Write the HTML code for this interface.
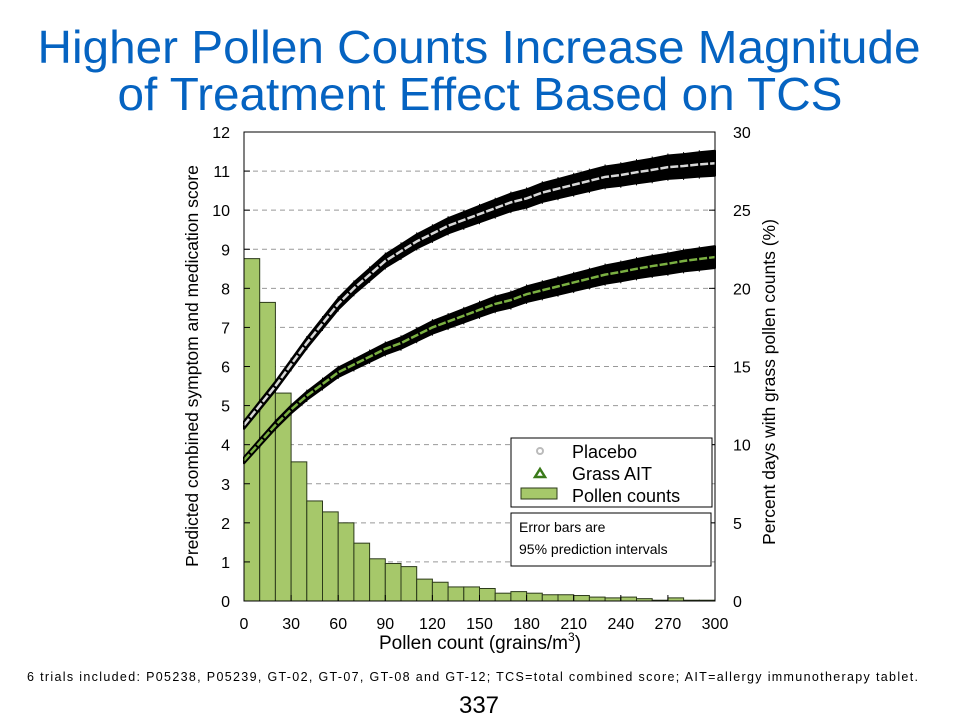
<!DOCTYPE html>
<html><head><meta charset="utf-8"><style>
body{margin:0;background:#fff;}
svg text{font-family:"Liberation Sans",Arial,sans-serif;}
</style></head><body>
<svg id="c" width="960" height="720" viewBox="0 0 960 720" xmlns="http://www.w3.org/2000/svg">
<text x="479" y="63" font-size="46" fill="#0563c1" text-anchor="middle" textLength="883" lengthAdjust="spacingAndGlyphs">Higher Pollen Counts Increase Magnitude</text>
<text x="480" y="110" font-size="46" fill="#0563c1" text-anchor="middle" textLength="725" lengthAdjust="spacingAndGlyphs">of Treatment Effect Based on TCS</text>
<g id="grid"></g>
<g id="bars"></g>
<g id="series"></g>
<rect x="244" y="132" width="471" height="469" fill="none" stroke="#000" stroke-width="1"/>
<g id="axes"></g>
<text transform="translate(198,366) rotate(-90)" font-size="17.5" text-anchor="middle">Predicted combined symptom and medication score</text>
<text transform="translate(775,382) rotate(-90)" font-size="17.5" text-anchor="middle">Percent days with grass pollen counts (%)</text>
<text x="480" y="649" font-size="19" text-anchor="middle">Pollen count (grains/m<tspan font-size="12" dy="-8">3</tspan><tspan dy="8">)</tspan></text>
<g>
<rect x="511" y="438" width="201" height="69" fill="#fff" stroke="#000" stroke-width="1"/>
<circle cx="540" cy="451" r="3" fill="none" stroke="#bbb" stroke-width="2"/>
<text x="572" y="458" font-size="18">Placebo</text>
<polygon points="535,477 540,469 545,477" fill="none" stroke="#3a7a1a" stroke-width="2.5"/>
<text x="572" y="480" font-size="18">Grass AIT</text>
<rect x="521" y="488" width="36" height="11" fill="#a6c86a" stroke="#2c3a1a"/>
<text x="572" y="502" font-size="18">Pollen counts</text>
</g>
<g>
<rect x="511" y="513" width="200" height="53" fill="#fff" stroke="#000" stroke-width="1"/>
<text x="519" y="532" font-size="14">Error bars are</text>
<text x="519" y="554" font-size="14">95% prediction intervals</text>
</g>
<text x="27" y="681" font-size="12.5" textLength="891" lengthAdjust="spacing">6 trials included:  P05238,  P05239,  GT-02,  GT-07,  GT-08 and GT-12;  TCS=total combined score; AIT=allergy  immunotherapy  tablet.</text>
<text x="479" y="713" font-size="24" text-anchor="middle">337</text>
</svg>
<script>
const pollenPct=[21.9,19.1,13.3,8.9,6.4,5.7,5.0,3.7,2.7,2.4,2.2,1.4,1.2,0.9,0.9,0.8,0.5,0.6,0.5,0.4,0.4,0.35,0.25,0.2,0.25,0.15,0.05,0.2,0.05,0.05];
const curveX=[0,10,20,30,40,50,60,70,80,90,100,110,120,130,140,150,160,170,180,190,200,210,220,230,240,250,260,270,280,290,300];
const placebo=[4.5,5.0,5.5,6.05,6.6,7.1,7.6,8.0,8.35,8.7,8.95,9.2,9.4,9.6,9.75,9.9,10.05,10.2,10.3,10.45,10.55,10.65,10.75,10.85,10.9,10.97,11.03,11.1,11.13,11.17,11.2];
const ait=[3.6,4.05,4.5,4.9,5.25,5.55,5.85,6.05,6.25,6.45,6.6,6.8,7.0,7.15,7.3,7.45,7.6,7.7,7.85,7.95,8.05,8.15,8.25,8.35,8.42,8.5,8.57,8.63,8.7,8.75,8.8];
const placeboErr=[0.1,0.32];
const aitErr=[0.08,0.28];
const xTicks=[0,30,60,90,120,150,180,210,240,270,300];
const yLeftTicks=[0,1,2,3,4,5,6,7,8,9,10,11,12];
const yRightTicks=[0,5,10,15,20,25,30];
const binWidth=10;
const NS="http://www.w3.org/2000/svg";
const X=v=>244+v/300*471, YL=v=>601-v/12*469, YR=v=>601-v/30*469;
function mk(p,t,a){const e=document.createElementNS(NS,t);for(const k in a)e.setAttribute(k,a[k]);p.appendChild(e);return e;}
const grid=document.getElementById('grid'),bars=document.getElementById('bars'),ser=document.getElementById('series'),axes=document.getElementById('axes');
yLeftTicks.forEach(v=>{if(v>0&&v<12){const l=mk(grid,'line',{x1:244,x2:715,y1:YL(v),y2:YL(v),stroke:'#999','stroke-dasharray':'5,4','stroke-width':1});

}
const t=mk(axes,'text',{x:230,y:YL(v)+6,'font-size':16,'text-anchor':'end'});t.textContent=v;


mk(axes,'line',{x1:244,x2:250,y1:YL(v),y2:YL(v),stroke:'#000'});});
yRightTicks.forEach(v=>{const t=mk(axes,'text',{x:733,y:YR(v)+6,'font-size':16});t.textContent=v;


mk(axes,'line',{x1:709,x2:715,y1:YR(v),y2:YR(v),stroke:'#000'});});
xTicks.forEach(v=>{const t=mk(axes,'text',{x:X(v),y:629,'font-size':16,'text-anchor':'middle'});t.textContent=v;


mk(axes,'line',{x1:X(v),x2:X(v),y1:601,y2:595,stroke:'#000'});});
pollenPct.forEach((p,i)=>{const r=mk(bars,'rect',{x:X(i*binWidth),y:YR(p),width:X(binWidth)-X(0),height:601-YR(p),fill:'#a6c86a',stroke:'#2c3a1a','stroke-width':1});

});
function drawSeries(vals,err,name,col){
 const g=mk(ser,'g',{});
 
 
 const n=vals.length;const e=i=>err[0]+(err[1]-err[0])*i/(n-1);
 let up=[],lo=[];vals.forEach((v,i)=>{up.push(X(curveX[i])+','+YL(v+e(i)));lo.unshift(X(curveX[i])+','+YL(v-e(i)));});
 mk(g,'polygon',{points:up.concat(lo).join(' '),fill:'#000',stroke:'#000','stroke-width':2,'stroke-linejoin':'round'});
 vals.forEach((v,i)=>{mk(g,'line',{x1:X(curveX[i]),x2:X(curveX[i]),y1:YL(v+e(i))-2,y2:YL(v-e(i))+2,stroke:'#000','stroke-width':1});});
 mk(g,'polyline',{points:vals.map((v,i)=>X(curveX[i])+','+YL(v)).join(' '),fill:'none',stroke:col,'stroke-width':2.5,'stroke-dasharray':'8,2'});
}
drawSeries(placebo,placeboErr,'placebo-series','#d8d8d8');
drawSeries(ait,aitErr,'grass-ait-series','#7bb042');
</script>
</body></html>
